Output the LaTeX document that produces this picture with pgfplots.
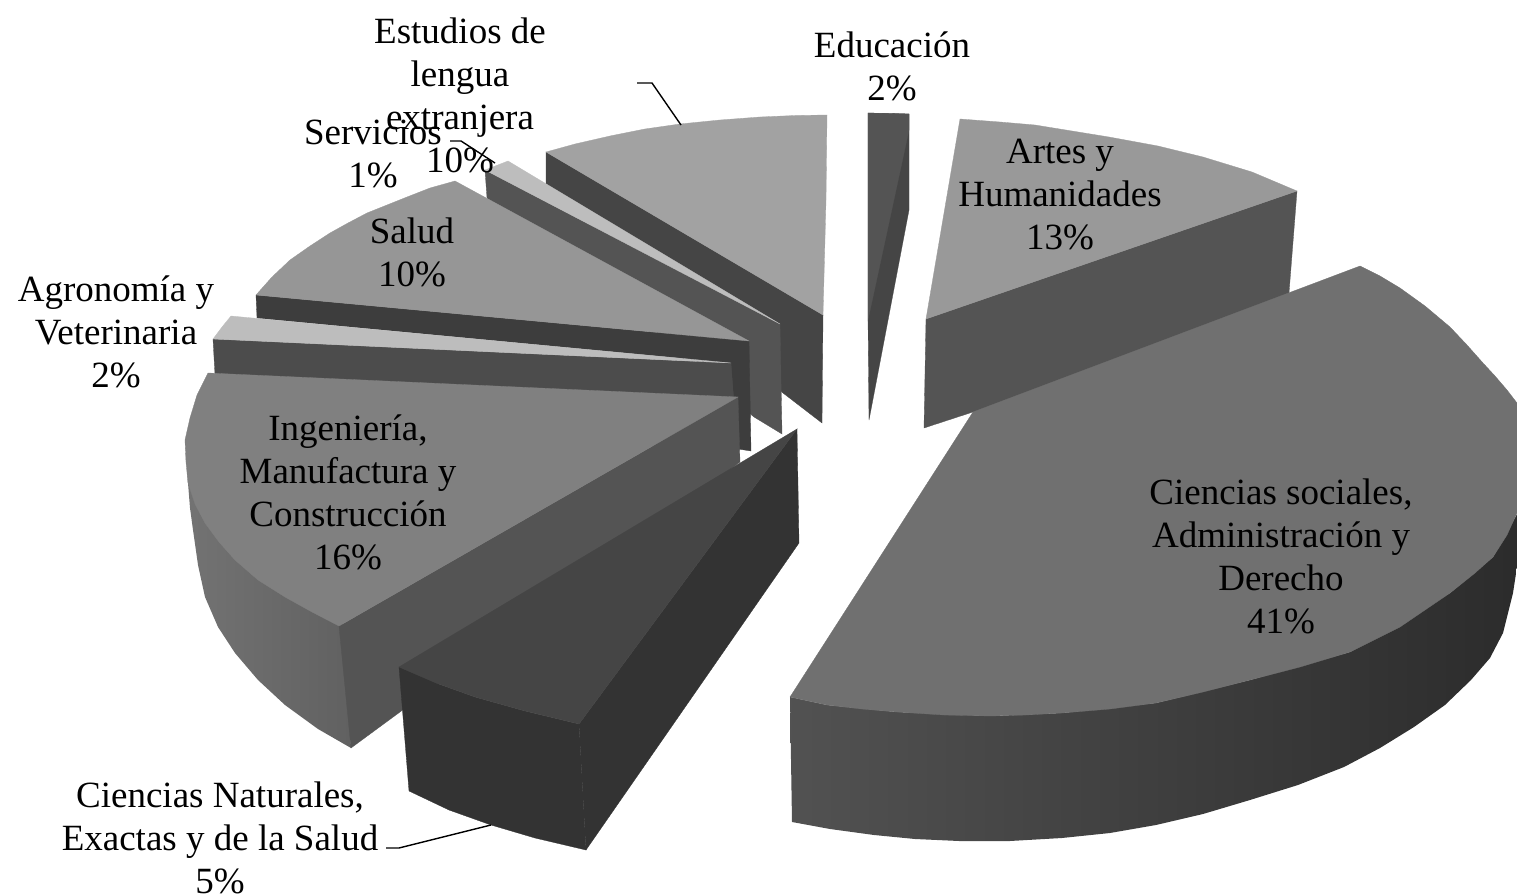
\documentclass[border=0pt]{standalone}
\usepackage{pgfplots}
\pgfplotsset{compat=1.18}
\usepackage{fontspec}
\setmainfont{Liberation Serif}
\definecolor{c1}{HTML}{A2A2A2}
\tikzset{
  face/.style={draw=#1,fill=#1,line width=0.3pt},
  lab/.style={font=\fontsize{37bp}{43bp}\selectfont,align=center,inner sep=0pt,text=black,overlay},
}
\begin{document}
\begin{tikzpicture}
\begin{axis}[hide axis,scale only axis,width=1517bp,height=895bp,
  xmin=0,xmax=1517,ymin=0,ymax=895,y dir=reverse,clip mode=individual]
\path (axis cs:0,0) rectangle (axis cs:1517,895);
% Estudios de lengua extranjera
\addplot[face={black!73}] coordinates {(546,152)(823,315)(822,423)(783,393)(546,185)} --cycle;
\addplot[face={c1}] coordinates {(546,152)(575,144)(610,136)(645,129)(680,124)(720,120)(760,117)(795,115.5)(827,115)(826,200)(823,315)} --cycle;
% Servicios
\addplot[face={black!67}] coordinates {(485,170)(780,324)(782,434)(754,417)(487,198)} --cycle;
\addplot[face={black!26}] coordinates {(508,161)(485,170)(780,324)} --cycle;
% Salud
\addplot[face={black!76}] coordinates {(256,295)(749,341)(751,451)(738,449)(731,363)(257,318)} --cycle;
\addplot[face={black!41}] coordinates {(455,181)(430,188)(407,197)(387,205)(367,213)(348,223)(330,233)(310,246)(290,260)(272,277)(256,295)(749,341)} --cycle;
% Agronomia
\addplot[face={black!70}] coordinates {(213,339)(731,363)(738,460)(215,375)} --cycle;
\addplot[face={black!26}] coordinates {(231,316)(222,327)(213,339)(731,363)} --cycle;
% Ingenieria
\addplot[draw=none,left color=black!55,right color=black!62] coordinates {(186,440)(188,483)(190,508)(193,530)(198,565)(205,597)(218,627)(235,653)(258,680)(285,705)(318,729)(351,748)(344,626)} --cycle;
\addplot[face={black!67}] coordinates {(339,626)(738,397)(740,462)(351,748)} --cycle;
\addplot[face={black!50}] coordinates {(208,373)(197,395)(190,418)(185,440)(186,462)(188,483)(195,504)(205,523)(219,542)(235,560)(258,580)(285,597)(312,612)(339,626)(738,397)} --cycle;
% Ciencias naturales
\addplot[face={black!80}] coordinates {(399,667)(436,683)(475,697)(525,711)(579,724)(586,850)(535,838)(491,825)(449,810)(409,791)} --cycle;
\addplot[face={black!80}] coordinates {(797,429)(799,543)(586,850)(579,724)} --cycle;
\addplot[face={black!73}] coordinates {(399,667)(797,429)(579,724)(525,711)(475,697)(436,683)} --cycle;
% Educacion
\addplot[face={black!73}] coordinates {(868,113)(909,114)(909,210)(869,420)(868,315)} --cycle;
\addplot[face={black!67}] coordinates {(868,113)(909,114)(909,130)(868,320)} --cycle;
% Artes
\addplot[face={black!67}] coordinates {(926,319)(1297,191)(1289,293)(1289,330)(1000,430)(973,412)(924,428)} --cycle;
\addplot[face={black!40}] coordinates {(960,119)(1000,122)(1035,125)(1072,131)(1109,137)(1158,146)(1203,157)(1252,172)(1297,191)(926,319)} --cycle;
% Ciencias sociales
\addplot[draw=none,left color=black!68,middle color=black!82,right color=black!83] coordinates {(790,697)(827,705)(897,712)(991,716)(1062,713)(1156,703)(1250,680)(1350,652)(1450,593)(1493,557)(1525,500)(1525,540)(1517,567)(1513,593)(1503,633)(1490,658)(1471,680)(1445,705)(1414,727)(1380,748)(1344,767)(1298,785)(1250,800)(1203,814)(1156,825)(1110,833)(1062,838)(1010,841)(959,841)(915,839)(874,835)(830,829)(792,822)} --cycle;
\addplot[face={black!56}] coordinates {(1360,266)(1380,276)(1400,288)(1425,306)(1450,327)(1467,345)(1483,363)(1495,376)(1507,390)(1517,403)(1530,430)(1535,470)(1530,485)(1517,513)(1507,535)(1493,557)(1475,573)(1450,593)(1400,627)(1350,652)(1300,667)(1250,680)(1203,692)(1156,703)(1110,709)(1062,713)(1026,715)(991,716)(944,715)(897,712)(862,709)(827,705)(790,697)(973,412)} --cycle;
% leaders
\addplot[black,line width=1.4pt] coordinates {(637,83)(652,83)(681,125)};
\addplot[black,line width=1.4pt] coordinates {(450,141)(461,141)(495,163)};
\addplot[black,line width=1.4pt] coordinates {(386,848)(399,848)(491,825)};
% labels
\node[lab] at (axis cs:460,95) {Estudios de\\lengua\\extranjera\\10\%};
\node[lab] at (axis cs:373,154) {Servicios\\1\%};
\node[lab] at (axis cs:892,66) {Educación\\2\%};
\node[lab] at (axis cs:1060,195) {Artes y\\Humanidades\\13\%};
\node[lab] at (axis cs:412,252) {Salud\\10\%};
\node[lab] at (axis cs:116,332) {Agronomía y\\Veterinaria\\2\%};
\node[lab] at (axis cs:348,492) {Ingeniería,\\Manufactura y\\Construcción\\16\%};
\node[lab] at (axis cs:1281,556) {Ciencias sociales,\\Administración y\\Derecho\\41\%};
\node[lab] at (axis cs:220,838) {Ciencias Naturales,\\Exactas y de la Salud\\5\%};
\end{axis}
\end{tikzpicture}
\end{document}
